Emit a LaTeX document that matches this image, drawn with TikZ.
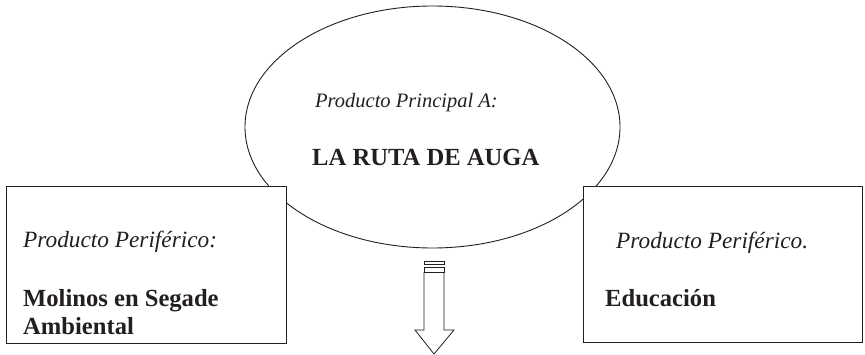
\documentclass[tikz,border=0pt]{standalone}
\usepackage{fontspec}
\setmainfont{Liberation Serif}
\usetikzlibrary{shapes.geometric}
\definecolor{ink}{HTML}{231F20}
\begin{document}
\begin{tikzpicture}[x=1pt,y=-1pt,
  outline/.style={draw=ink,line width=0.9pt},
  boxstyle/.style={outline,fill=white,rectangle,inner sep=0pt,anchor=north west},
  itxt/.style={anchor=base west,inner sep=0pt,text=ink,font=\itshape\fontsize{23.3}{28}\selectfont},
  btxt/.style={anchor=base west,inner sep=0pt,text=ink,font=\bfseries\fontsize{24.6}{28}\selectfont},
  eitxt/.style={anchor=base west,inner sep=0pt,text=ink,font=\itshape\fontsize{20.5}{24}\selectfont}]
\useasboundingbox (0,0) rectangle (865,355);
% main ellipse
\node[ellipse,outline,minimum width=375pt,minimum height=242pt,inner sep=0pt] (main) at (432.5,127) {};
\node[eitxt] (mt1) at (315,108) {Producto Principal A:};
\node[btxt] (mt2) at (312,166) {LA RUTA DE AUGA};
% peripheral boxes
\node[boxstyle,minimum width=280pt,minimum height=157pt] (left) at (6,186) {};
\node[boxstyle,minimum width=279pt,minimum height=156pt] (right) at (583,186) {};
\node[itxt] (lt1) at (23,248) {Producto Periférico:};
\node[btxt] (lt2) at (23,307) {Molinos en Segade};
\node[btxt] (lt3) at (23,335) {Ambiental};
\node[itxt] (rt1) at (616,249) {Producto Periférico.};
\node[btxt] (rt2) at (605,307) {Educación};
% striped down arrow
\draw[outline,line width=0.8pt] (424,261) rectangle (444,264.5);
\draw[outline,line width=0.8pt] (424,267) rectangle (444,272.5);
\draw[outline,line width=0.8pt,line join=miter] (424,272.5) -- (444,272.5) -- (444,330) -- (454,330) -- (434,354) -- (415,330) -- (424,330) -- cycle;
\end{tikzpicture}
\end{document}
